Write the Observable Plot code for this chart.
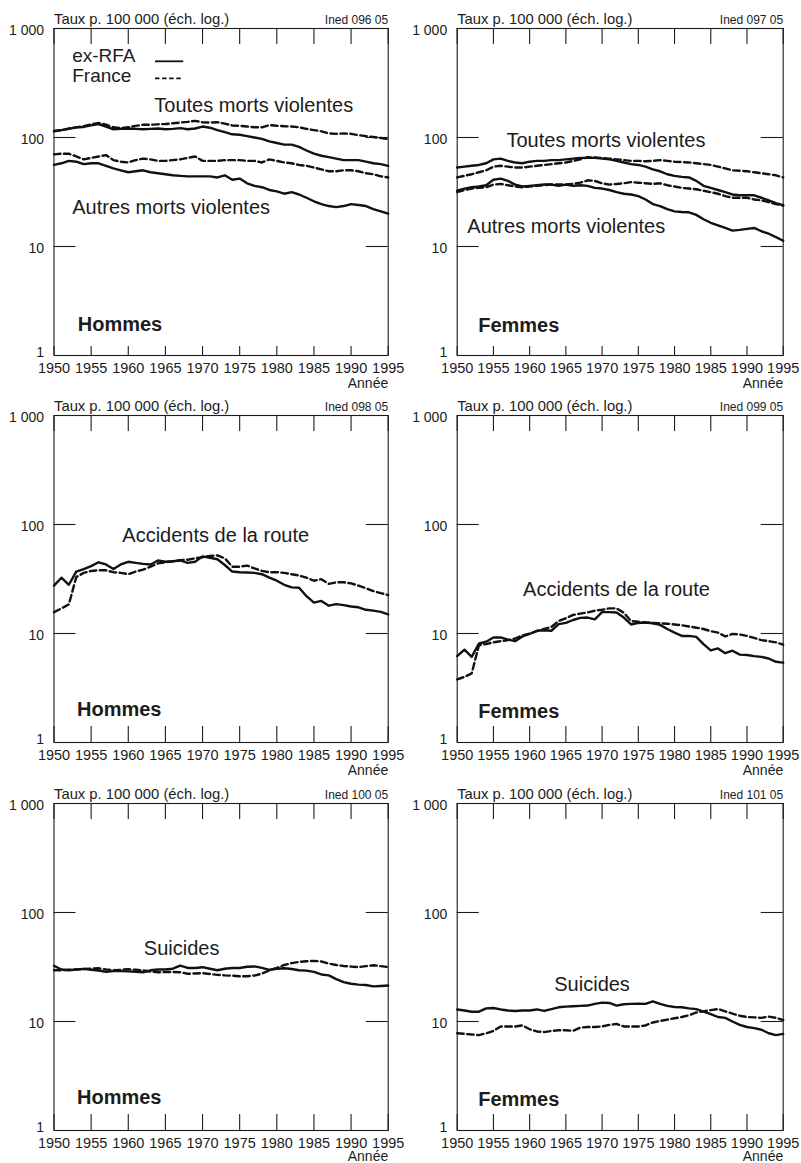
<!DOCTYPE html>
<html>
<head>
<meta charset="utf-8">
<script src="https://cdn.jsdelivr.net/npm/d3@7"></script>
<script src="https://cdn.jsdelivr.net/npm/@observablehq/plot@0.6"></script>
<style>
  body { margin: 0; background: #fff; }
  #chart { position: relative; width: 801px; height: 1163px; font-family: "Liberation Sans", Arial, Helvetica, sans-serif; }
  #chart svg { position: absolute; overflow: visible; }
</style>
</head>
<body>
<div id="chart"></div>
<script>
// Years covered by every series
const years = d3.range(1950, 1996);
const xTicks = [1950, 1955, 1960, 1965, 1970, 1975, 1980, 1985, 1990, 1995];
const yTicks = [1, 10, 100, 1000];
const yTickLabels = ["1", "10", "100", "1 000"];
const countries = ["ex-RFA", "France"];

// Rates per 100 000 — men
const rfaToutesH = [115,117,120,124,125,129,133,126,119,120, 121,120,119,120,121,119,120,122,119,121, 126,123,117,112,107,106,103,100,97,92, 89,86,86,82,76,71,68,66,64,62, 62,62,60,58,57,55];
const franceToutesH = [114,117,121,124,127,132,136,131,124,122, 124,128,131,131,132,133,135,137,139,142, 138,137,138,134,129,128,126,124,124,130, 128,127,126,124,120,117,114,109,108,109, 108,105,103,101,99,97];
const rfaAutresH = [56,58,61,60,57,58,58,55,52,50, 48,49,50,48,47,46,45,44.5,44,44, 44,44,43,45,41,42,38,36,35,33, 32,30.5,31.5,30,28,26,24.5,23.5,23,23.5, 24.5,24,23.5,22,21,20];
const franceAutresH = [70,71,71,67,63,65,67,69,62,60, 59,62,64,63,61,61,62,63,65,67, 61,61,61,62,62,62,61,61,59,63, 61,59,58,56,55,53,51,49,49,50, 50,49,47,46,44,43];
const rfaRouteH = [27.5,32.5,28,37,39,41.5,45,43,39,43, 45.5,44.5,43.5,43,46.8,45.5,46,46.8,44.5,45.5, 51,49.5,48,42.5,37,36.5,36.3,36,35,32.5, 30.5,28,26.5,26.3,22,19.2,19.9,18,18.6,18.2, 17.7,17.4,16.5,16.2,15.8,15];
const franceRouteH = [15.7,17,18.5,33,36,37.5,38,38,36.5,36, 35,37,38.5,41,44,45,46,47,47.5,49, 50,51.5,52,49,41,41,42,39.5,37.5,36.5, 36.5,36,35,34,32.5,30.5,31.5,28.5,29.5,29.5, 28.8,27.5,26,24.5,23.5,22.5];
const rfaSuicidesH = [32.5,30,29.5,30,30.4,29.8,29.4,28.5,29,29, 28.8,28.6,28.3,29.5,30,30,30.5,32.5,31,31, 31.5,30.5,29.5,30.5,31,31,31.8,32,31,29.8, 30.5,30.8,30.3,29.5,29.3,28.5,27,26.5,24.5,23, 22.2,21.8,21.6,21,21.2,21.4];
const franceSuicidesH = [29.5,29.5,29.8,30,30.3,30.6,30.8,30,29.6,29.8, 30.2,29.8,29.4,28.7,28.3,28.4,28.5,28.3,27.4,27.6, 27.8,27.3,26.8,26.5,26.3,26,26,26.4,27.5,29.5, 31,33,34.3,35.2,35.7,36,35.5,34,33,32.3, 31.9,31.5,32.2,32.8,32.2,31.6];

// Rates per 100 000 — women
const rfaToutesF = [53,54,55,56,58,63,64,61,59,58, 60,61,61,62,62,63,64,65,65,65, 64,63,61,59,57,56,54,51,49,46, 44.5,43.5,43,40,36,34.5,33,31.5,30,29.5, 29.5,29.5,28,26.5,25,24];
const franceToutesF = [43,44.5,46,48,50,54,55,54,53,53, 54,55,56,57,58,59,61,63,66,65.5, 65,64,63,62,61,61,60.5,61,62,61, 60,59.5,59,58,57,56,54,52,50,49.5, 49,48,47,46,45,43];
const rfaAutresF = [32.5,34,35,35.5,36.5,41,42,40,37,35.5, 36,36.5,37,37,36,37,36,36.5,36,34.5, 34,33,31.5,30.5,30,29,27,24.5,23.5,22, 21,20.7,20.6,19.5,17.8,16.5,15.6,14.8,14,14.2, 14.5,14.8,13.8,13.1,12.2,11.3];
const franceAutresF = [31.5,33,34,34.5,35,37,37.5,36.5,35.5,35, 35.5,36,36.5,37,37,37,37.5,38.5,40.5,40, 38,37,37.5,38,39,38.5,38,37.5,38,36.5, 35.5,34.5,34,33.5,32.5,31.5,30.5,29,28,28, 28,27,26.5,25.5,24.5,23.7];
const rfaRouteF = [6.2,7.1,6.1,8.1,8.4,9.2,9.2,8.8,8.5,9.4, 9.9,10.6,10.7,10.6,12.2,12.5,13.3,13.9,14,13.5, 15.7,15.7,15.6,14,12.1,12.5,12.6,12.4,12,11, 10.2,9.5,9.5,9.3,8,7,7.3,6.6,6.95,6.4, 6.35,6.2,6.1,5.9,5.5,5.4];
const franceRouteF = [3.8,4.0,4.3,7.8,8.0,8.3,8.5,8.7,9.0,9.6, 10.0,10.5,11.0,11.5,13.0,13.8,14.8,15.2,15.6,16.2, 16.5,17,17,15.5,13,12.8,12.6,12.5,12.4,12.3, 12.1,11.9,11.6,11.3,11.0,10.5,10.2,9.4,9.9,9.8, 9.5,9.1,8.7,8.5,8.3,7.9];
const rfaSuicidesF = [12.9,12.6,12.3,12.3,13.2,13.3,12.9,12.6,12.5,12.6, 12.6,12.9,12.5,13.0,13.5,13.7,13.8,13.9,14.0,14.5, 14.9,14.8,14.0,14.4,14.5,14.6,14.5,15.3,14.5,13.9, 13.6,13.5,13.2,13.0,12.3,11.7,11.0,10.8,10.0,9.3, 8.9,8.7,8.4,7.8,7.5,7.7];
const franceSuicidesF = [7.8,7.7,7.6,7.5,7.8,8.2,9.0,9.0,9.0,9.2, 8.5,8.1,8.0,8.2,8.3,8.3,8.2,8.8,8.9,8.9, 9.0,9.3,9.5,9.0,9.0,9.0,9.2,9.8,10.1,10.4, 10.7,11.0,11.4,12.1,12.4,12.7,13.0,12.4,11.8,11.3, 11.0,10.9,10.8,11.1,10.8,10.3];

// Panel layout: grid column (0 left, 1 right) and row
const FONT = '"Liberation Sans", Arial, Helvetica, sans-serif';
const INK = "#1c1c1c";
const ROW_TOP = [0, 387, 775];
const ROW_YEAR_OFFSET = [32, 32, 30];   // baseline of "Année" below the frame
const FRAME_H = 327, MT = 28, MB = 35;
const COLS = [
  {left: 0, width: 400, ml: 53.5, mr: 12.3},
  {left: 400, width: 401, ml: 56.7, mr: 18.3}
];

const panels = [
  {col: 0, row: 0, code: "Ined 096 05", sex: "Hommes", sexAt: [1953.2, 1.94], legend: true, bottomTick: 9,
   series: [["ex-RFA", rfaToutesH], ["France", franceToutesH], ["ex-RFA", rfaAutresH], ["France", franceAutresH]],
   notes: [["Toutes morts violentes", 1963.5, 197], ["Autres morts violentes", 1952.45, 22.8]]},
  {col: 1, row: 0, code: "Ined 097 05", sex: "Femmes", sexAt: [1952.9, 1.9], bottomTick: 9,
   series: [["ex-RFA", rfaToutesF], ["France", franceToutesF], ["ex-RFA", rfaAutresF], ["France", franceAutresF]],
   notes: [["Toutes morts violentes", 1956.8, 93], ["Autres morts violentes", 1951.4, 15.3]]},
  {col: 0, row: 1, code: "Ined 098 05", sex: "Hommes", sexAt: [1953.1, 2.0], bottomTick: 16,
   series: [["ex-RFA", rfaRouteH], ["France", franceRouteH]],
   notes: [["Accidents de la route", 1959.2, 79.8]]},
  {col: 1, row: 1, code: "Ined 099 05", sex: "Femmes", sexAt: [1952.9, 1.93], bottomTick: 16,
   series: [["ex-RFA", rfaRouteF], ["France", franceRouteF]],
   notes: [["Accidents de la route", 1959.1, 25.4]]},
  {col: 0, row: 2, code: "Ined 100 05", sex: "Hommes", sexAt: [1953.1, 1.99], bottomTick: 16,
   series: [["ex-RFA", rfaSuicidesH], ["France", franceSuicidesH]],
   notes: [["Suicides", 1962.1, 47]]},
  {col: 1, row: 2, code: "Ined 101 05", sex: "Femmes", sexAt: [1952.9, 1.92], bottomTick: 16,
   series: [["ex-RFA", rfaSuicidesF], ["France", franceSuicidesF]],
   notes: [["Suicides", 1963.4, 21.7]]}
];

// Legend placement inside the first panel (data units)
const legendRows = [
  {label: "ex-RFA", x: 1952.45, y: 555, x1: 1963.6, x2: 1967.4, ly: 500},
  {label: "France", x: 1952.45, y: 370, x1: 1963.6, x2: 1967.4, ly: 349}
];

const root = document.getElementById("chart");

for (const p of panels) {
  const c = COLS[p.col];
  const frameW = c.width - c.ml - c.mr;
  const rows = p.series.flatMap(([country, values], k) =>
    values.map((v, i) => ({year: years[i], value: v, country, key: k})));
  const solid = rows.filter(d => d.country === countries[0]);
  const dashed = rows.filter(d => d.country === countries[1]);
  const yLabel = d => yTickLabels[yTicks.indexOf(d)];

  const marks = [
    Plot.frame({stroke: INK, strokeWidth: 1.1}),
    // inward ticks on all four sides
    Plot.tickX(xTicks, {x: d => d, stroke: INK, strokeWidth: 1.1, insetBottom: FRAME_H - 16}),
    Plot.tickX(xTicks, {x: d => d, stroke: INK, strokeWidth: 1.1, insetTop: FRAME_H - p.bottomTick}),
    Plot.tickY(yTicks.slice(1, 3), {y: d => d, stroke: INK, strokeWidth: 1.1, insetRight: frameW - 22}),
    Plot.tickY(yTicks.slice(1, 3), {y: d => d, stroke: INK, strokeWidth: 1.1, insetLeft: frameW - 22}),
    Plot.axisX({ticks: xTicks, tickSize: 0, tickPadding: 7.5, tickFormat: d => String(d),
      label: null, fontSize: 14.5, fill: INK}),
    Plot.axisY({ticks: yTicks.slice(1), tickSize: 0, tickPadding: 10, tickFormat: yLabel,
      label: null, fontSize: 14, fill: INK, dy: 2}),
    Plot.axisY({ticks: yTicks.slice(0, 1), tickSize: 0, tickPadding: 10, tickFormat: yLabel,
      label: null, fontSize: 14, fill: INK, dy: -3}),
    Plot.lineY(solid, {x: "year", y: "value", z: "key", stroke: "#111", strokeWidth: 2.4, curve: "linear"}),
    Plot.lineY(dashed, {x: "year", y: "value", z: "key", stroke: "#111", strokeWidth: 2.4,
      strokeDasharray: "6.5,3.5", curve: "linear"}),
    Plot.text(["Taux p. 100 000 (éch. log.)"], {frameAnchor: "top-left", textAnchor: "start",
      lineAnchor: "bottom", dy: -5, fontSize: 14.8, fill: INK}),
    Plot.text([p.code], {frameAnchor: "top-right", textAnchor: "end", lineAnchor: "bottom",
      dy: -4.5, fontSize: 12, fill: INK}),
    Plot.text(["Année"], {frameAnchor: "bottom-right", textAnchor: "end", lineAnchor: "bottom",
      dy: ROW_YEAR_OFFSET[p.row], fontSize: 14, fill: INK}),
    Plot.text(p.notes, {x: d => d[1], y: d => d[2], text: d => d[0], textAnchor: "start",
      lineAnchor: "middle", fontSize: 20, fill: INK}),
    Plot.text([p.sex], {x: () => p.sexAt[0], y: () => p.sexAt[1], textAnchor: "start",
      lineAnchor: "middle", fontSize: 20, fontWeight: "bold", fill: INK})
  ];

  if (p.legend) {
    marks.push(
      Plot.text(legendRows, {x: "x", y: "y", text: "label", textAnchor: "start", lineAnchor: "middle",
        fontSize: 19, fill: INK}),
      Plot.link(legendRows.slice(0, 1), {x1: "x1", x2: "x2", y1: "ly", y2: "ly", stroke: "#111", strokeWidth: 1.8}),
      Plot.link(legendRows.slice(1, 2), {x1: "x1", x2: "x2", y1: "ly", y2: "ly", stroke: "#111", strokeWidth: 1.6,
        strokeDasharray: "4.5,2.6"})
    );
  }

  const svg = Plot.plot({
    width: c.width,
    height: MT + FRAME_H + MB,
    marginTop: MT,
    marginBottom: MB,
    marginLeft: c.ml,
    marginRight: c.mr,
    style: {fontFamily: FONT, fontSize: "14.5px", color: INK, background: "transparent", overflow: "visible"},
    x: {domain: [1950, 1995]},
    y: {type: "log", domain: [1, 1000]},
    marks
  });
  svg.style.left = c.left + "px";
  svg.style.top = ROW_TOP[p.row] + "px";
  root.appendChild(svg);
}
</script>
</body>
</html>
